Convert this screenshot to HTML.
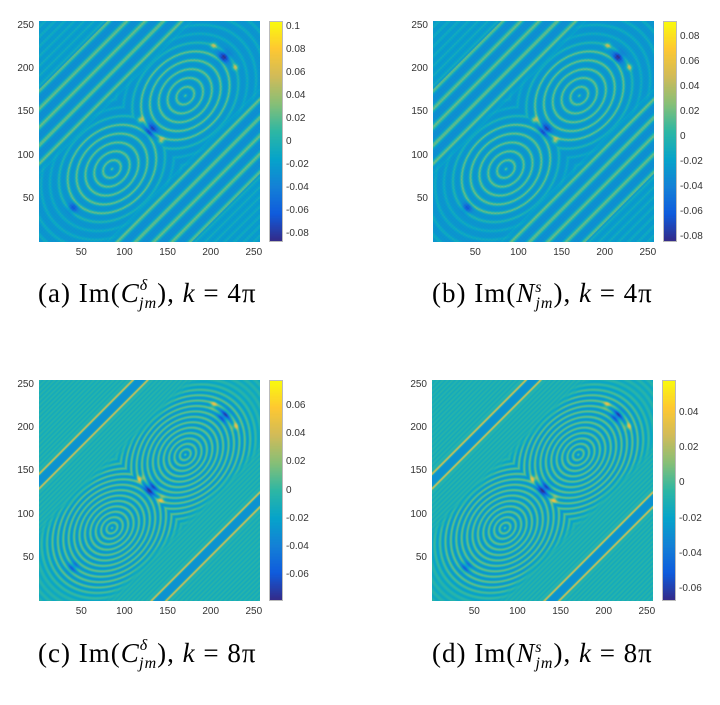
<!DOCTYPE html><html><head><style>
body{margin:0;background:#fff;width:720px;height:705px;position:relative;overflow:hidden;font-family:"Liberation Sans",sans-serif}
canvas{position:absolute}
.t{position:absolute;font-size:10px;color:#333;line-height:10px}
.cap{position:absolute;font-family:"Liberation Serif",serif;font-size:27px;white-space:nowrap;color:#000;letter-spacing:1px}
.cap i{font-style:italic}
.bx{position:absolute;border:1px solid #bbb;box-sizing:border-box}
</style></head><body>
<div id="root"></div>
<div class="cap" style="left:38px;top:278px">(a) Im(<i>C</i><sup style="font-size:16px;position:relative;top:-2px"><i>δ</i></sup><sub style="font-size:16px;margin-left:-9px"><i>jm</i></sub>), <i>k</i> = 4π</div>
<div class="cap" style="left:432px;top:278px">(b) Im(<i>N</i><sup style="font-size:16px"><i>s</i></sup><sub style="font-size:16px;margin-left:-7px"><i>jm</i></sub>), <i>k</i> = 4π</div>
<div class="cap" style="left:38px;top:638px">(c) Im(<i>C</i><sup style="font-size:16px;position:relative;top:-2px"><i>δ</i></sup><sub style="font-size:16px;margin-left:-9px"><i>jm</i></sub>), <i>k</i> = 8π</div>
<div class="cap" style="left:432px;top:638px">(d) Im(<i>N</i><sup style="font-size:16px"><i>s</i></sup><sub style="font-size:16px;margin-left:-7px"><i>jm</i></sub>), <i>k</i> = 8π</div>
<script>
var stops=[[53,42,135],[15,92,221],[20,129,214],[6,164,202],[46,183,164],[135,191,119],[209,187,89],[254,200,50],[249,251,14]];
function par(t){t=Math.max(0,Math.min(1,t))*8;var i=Math.min(7,Math.floor(t)),f=t-i,a=stops[i],b=stops[i+1];return[a[0]+(b[0]-a[0])*f,a[1]+(b[1]-a[1])*f,a[2]+(b[2]-a[2])*f];}
var panels=[
{x:39,y:21,top:1,cb:[[0.1,27],[-0.08,234]],ticks:[0.1,0.08,0.06,0.04,0.02,0,-0.02,-0.04,-0.06,-0.08]},
{x:433,y:21,top:1,cb:[[0.08,37],[-0.08,237]],ticks:[0.08,0.06,0.04,0.02,0,-0.02,-0.04,-0.06,-0.08]},
{x:39,y:380,top:0,cb:[[0.06,406],[-0.06,575]],ticks:[0.06,0.04,0.02,0,-0.02,-0.04,-0.06]},
{x:432,y:380,top:0,cb:[[0.04,413],[-0.06,589]],ticks:[0.04,0.02,0,-0.02,-0.04,-0.06]}];
var root=document.getElementById('root');
function el(h){root.insertAdjacentHTML('beforeend',h);}
function g(c){return Math.pow((1+c)/2,3);}
function G(x,y,cx,cy,s){return Math.exp(-((x-cx)*(x-cx)+(y-cy)*(y-cy))/s);}
var S2=Math.SQRT2;
panels.forEach(function(p){
 var W=221,H=221,c=document.createElement('canvas');c.width=W;c.height=H;c.style.left=p.x+'px';c.style.top=p.y+'px';root.appendChild(c);
 var ctx=c.getContext('2d'),im=ctx.createImageData(W,H);
 var rp=p.top?9:5.5;
 for(var j=0;j<H;j++)for(var i=0;i<W;i++){
  var x=1+i*255/(W-1),y=256-j*255/(H-1);
  var dd=(x-y)/S2, ad=Math.abs(dd), s=(x+y)/S2;
  var u1=s-85*S2,u2=s-170*S2;
  var r1=Math.sqrt(u1*u1/1.6+dd*dd), r2=Math.sqrt(u2*u2/1.6+dd*dd);
  var r=Math.min(r1,r2);
  var t;
  var m=Math.min(1,Math.max(0,(ad-50)/12));
  if(p.top){
   var fade=r<45?1:Math.max(0.35,1-(r-45)/20);
   var ring=0.32+0.26*fade*g(Math.cos(2*Math.PI*r/rp));
   var st;
   if(ad>62&&ad<125) st=0.30+0.28*g(Math.cos(2*Math.PI*(ad-64)/15));
   else st=0.34+0.08*g(Math.cos(2*Math.PI*ad/8));
   t=(1-m)*ring+m*st;
   t+=0.04*Math.cos(1.6*x)*Math.cos(1.6*y);
  } else {
   var fade=r<60?1:Math.max(0.3,1-(r-60)/25);
   var ring=0.44+0.14*fade*Math.cos(2*Math.PI*r/rp);
   var st;
   if(ad>93&&ad<103) st=0.31; else st=0.45+0.04*Math.cos(2*Math.PI*ad/4);
   st+=0.28*Math.exp(-Math.pow(ad-92,2)/2)+0.28*Math.exp(-Math.pow(ad-104,2)/2);
   t=(1-m)*ring+m*st;
  }
  t-=0.35*G(x,y,130,130,45)+0.3*G(x,y,215,215,40)+0.2*G(x,y,40,40,30);
  t+=0.35*G(x,y,142,118,12)+0.35*G(x,y,118,142,12)+0.3*G(x,y,228,203,12)+0.3*G(x,y,203,228,12);
  var col=par(t),k=(j*W+i)*4;im.data[k]=col[0];im.data[k+1]=col[1];im.data[k+2]=col[2];im.data[k+3]=255;}
 ctx.putImageData(im,0,0);
 var cb=document.createElement('canvas');cb.width=14;cb.height=221;cb.style.left=(p.x+230)+'px';cb.style.top=p.y+'px';root.appendChild(cb);
 var gg=cb.getContext('2d');for(var rr=0;rr<221;rr++){var cc=par(1-rr/220);gg.fillStyle='rgb('+cc.map(Math.round).join(',')+')';gg.fillRect(0,rr,14,1);}
 el('<div class="bx" style="left:'+(p.x+230)+'px;top:'+p.y+'px;width:14px;height:221px"></div>');
 var v0=p.cb[0][0],y0=p.cb[0][1],v1=p.cb[1][0],y1=p.cb[1][1];
 p.ticks.forEach(function(v){var yy=y0+(v-v0)*(y1-y0)/(v1-v0);el('<div class="t" style="left:'+(p.x+247)+'px;top:'+(yy-5)+'px">'+v+'</div>');});
 [50,100,150,200,250].forEach(function(v){var xx=p.x+(v-1)*220/255;el('<div class="t" style="left:'+(xx-10)+'px;width:20px;text-align:center;top:'+(p.y+227)+'px">'+v+'</div>');
  var yy=p.y+220-(v-1)*220/255;el('<div class="t" style="left:'+(p.x-30)+'px;width:25px;text-align:right;top:'+(yy-5)+'px">'+v+'</div>');});
});
</script>
</body></html>
